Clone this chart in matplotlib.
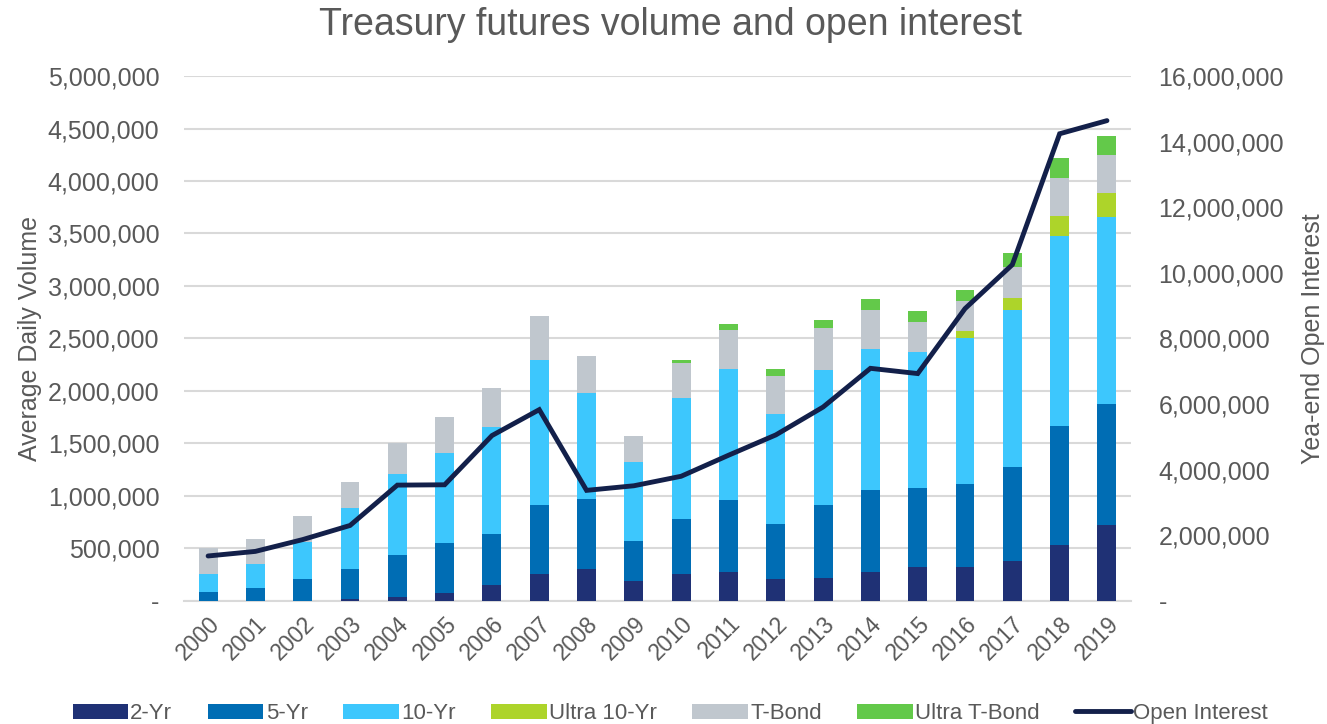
import matplotlib
matplotlib.use("Agg")
import matplotlib.pyplot as plt
from matplotlib.ticker import FuncFormatter
import numpy as np

plt.rcParams['font.family'] = ['Liberation Sans', 'DejaVu Sans']

years = [str(y) for y in range(2000, 2020)]
two_yr = [0, 0, 3, 17, 33, 77, 147, 260, 307, 187, 257, 280, 207, 223, 273, 323, 323, 377, 530, 720]
five_yr = [87, 127, 203, 283, 407, 476, 493, 653, 660, 386, 520, 677, 530, 690, 780, 750, 794, 903, 1140, 1160]
ten_yr = [173, 226, 357, 583, 770, 857, 1017, 1380, 1013, 750, 1156, 1253, 1046, 1287, 1347, 1294, 1386, 1490, 1807, 1780]
ultra_ten = [0, 0, 0, 0, 0, 0, 0, 0, 0, 0, 0, 0, 0, 0, 0, 0, 67, 117, 186, 230]
t_bond = [240, 234, 243, 250, 290, 343, 370, 424, 350, 247, 337, 370, 364, 400, 370, 286, 283, 293, 367, 353]
ultra_tbond = [0, 0, 0, 0, 0, 0, 0, 0, 0, 0, 27, 57, 60, 77, 103, 110, 107, 133, 187, 187]
open_interest = [1.37, 1.51, 1.87, 2.30, 3.53, 3.54, 5.04, 5.83, 3.37, 3.51, 3.80, 4.44, 5.06, 5.91, 7.09, 6.93, 8.91, 10.25, 14.24, 14.64]

series = [
    ("2-Yr", two_yr, "#1F3175"),
    ("5-Yr", five_yr, "#006DB4"),
    ("10-Yr", ten_yr, "#3DC7FD"),
    ("Ultra 10-Yr", ultra_ten, "#ADD42A"),
    ("T-Bond", t_bond, "#C0C7CE"),
    ("Ultra T-Bond", ultra_tbond, "#63C94A"),
]

grey = "#595959"
fig = plt.figure(figsize=(13.27, 7.24), dpi=100)
ax = fig.add_axes([0.139, 0.170, 0.713, 0.725])
ax2 = ax.twinx()

x = np.arange(len(years))
bottom = np.zeros(len(years))
handles = []
for name, vals, color in series:
    v = np.array(vals, dtype=float) * 1000
    b = ax.bar(x, v, 0.4, bottom=bottom, color=color, label=name, zorder=3)
    handles.append(b)
    bottom += v

ln, = ax2.plot(x, np.array(open_interest) * 1e6, color="#13204A", lw=3.5,
               solid_capstyle='round', solid_joinstyle='miter', label="Open Interest", zorder=4)
handles.append(ln)

ax.set_xlim(-0.5, len(years) - 0.5)
ax.set_ylim(0, 5_000_000)
ax.set_yticks(np.arange(0, 5_000_001, 500_000))
ax2.set_ylim(0, 16_000_000)
ax2.set_yticks(np.arange(0, 16_000_001, 2_000_000))

fmt = FuncFormatter(lambda v, p: "-" if v == 0 else f"{int(v):,}")
ax.yaxis.set_major_formatter(fmt)
ax2.yaxis.set_major_formatter(fmt)

ax.set_xticks(x)
ax.set_xticklabels(years, rotation=45, ha='right', rotation_mode='anchor')

ax.grid(axis='y', color='#D9D9D9', lw=1.5, zorder=0)
ax.set_axisbelow(True)
for a in (ax, ax2):
    for s in a.spines.values():
        s.set_visible(False)
    a.tick_params(length=0, colors=grey, labelsize=18)
ax.spines['bottom'].set_visible(True)
ax.spines['bottom'].set_color('#D9D9D9')
ax.spines['bottom'].set_linewidth(1.5)
ax.tick_params(axis='x', labelsize=16.5, pad=8)
ax.tick_params(axis='y', pad=18)
ax2.tick_params(axis='y', pad=20)

ax.set_ylabel("Average Daily Volume", fontsize=18, color=grey, labelpad=4)
ax2.set_ylabel("Yea-end Open Interest", fontsize=18, color=grey, labelpad=12)

fig.suptitle("Treasury futures volume and open interest", fontsize=27, color=grey, y=0.99, x=0.505)

fig.legend(handles=handles, labels=[h.get_label() for h in handles], loc='lower center',
           bbox_to_anchor=(0.505, -0.028), ncol=7, frameon=False, fontsize=16,
           labelcolor=grey, handlelength=2.5, columnspacing=1.6, handletextpad=0.1)

fig.savefig("out.png", dpi=100)
